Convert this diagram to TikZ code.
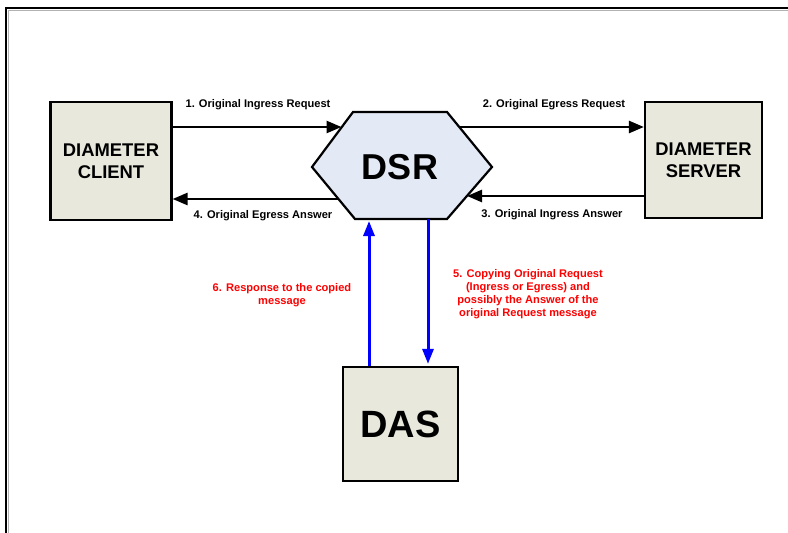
\documentclass[tikz,border=0pt]{standalone}
\usepackage{fontspec}
\setmainfont{Liberation Sans}
\usetikzlibrary{arrows.meta}
\definecolor{boxfill}{HTML}{E8E8DD}
\definecolor{hexfill}{HTML}{E4EAF5}
\definecolor{netblue}{HTML}{0000FF}
\definecolor{msgred}{HTML}{FF0000}
\tikzset{
  entity/.style={draw=black, line width=2.2pt, fill=boxfill, align=center, inner sep=0pt,
    font=\fontsize{18.4}{22}\selectfont\bfseries},
  arr/.style={line width=2.6pt, -{Triangle[length=15pt,width=12pt]}},
  barr/.style={line width=3pt, draw=netblue, -{Triangle[length=15pt,width=11pt]}},
  msg/.style={font=\fontsize{11.1}{13}\selectfont\bfseries, inner sep=0pt, align=center},
  redmsg/.style={msg, text=msgred}
}
\begin{document}
\begin{tikzpicture}[x=1pt,y=-1pt]
\useasboundingbox (0,0) rectangle (788,533);
% frame
\draw[line width=0.8pt, black!30] (8.5,540) -- (8.5,10.5) -- (795,10.5);
\draw[line width=2pt] (6,540) -- (6,8) -- (795,8);

% boxes
\node[entity, minimum width=121pt, minimum height=118pt] (client) at (111,161) {DIAMETER\\CLIENT};
\node[entity, minimum width=117pt, minimum height=116pt] (server) at (703.5,160) {DIAMETER\\SERVER};
\node[entity, minimum width=115pt, minimum height=114pt,
      font=\fontsize{38}{40}\selectfont\bfseries] (das) at (400.5,424) {DAS};

% DSR hexagon
\coordinate (hA) at (353,112);
\coordinate (hB) at (447,112);
\coordinate (hC) at (492,167);
\coordinate (hD) at (447,219);
\coordinate (hE) at (355,219);
\coordinate (hF) at (312,167);
\draw[line width=2.2pt, fill=hexfill, line join=miter] (hA) -- (hB) -- (hC) -- (hD) -- (hE) -- (hF) -- cycle;
\node[font=\fontsize{36}{40}\selectfont\bfseries, inner sep=0pt] (dsr) at (400,167) {DSR};

% attachment points on the hexagon
\coordinate (h1) at (341.5,127);
\coordinate (h2) at (459.5,127);
\coordinate (h3) at (467,196);
\coordinate (h4) at (338.5,199);
\coordinate (b1) at (369,221);
\coordinate (b2) at (428,219);

% black message arrows
\draw[arr] (client.east |- h1) -- (h1);
\draw[arr] (h2) -- (server.west |- h2);
\draw[arr] (server.west |- h3) -- (h3);
\draw[arr] (h4) -- (client.east |- h4);

% blue arrows
\draw[barr] (das.north -| b1) -- (b1);
\draw[barr, shorten >=2pt] (b2) -- (das.north -| b2);

% labels
\node[msg] (l1) at (258,105) {1. Original Ingress Request};
\node[msg] (l2) at (554,105) {2. Original Egress Request};
\node[msg] (l3) at (552,215) {3. Original Ingress Answer};
\node[msg] (l4) at (263,216) {4. Original Egress Answer};
\node[redmsg] (l6) at (282,295) {6. Response to the copied\\message};
\node[redmsg] (l5) at (528,294) {5. Copying Original Request\\(Ingress or Egress) and\\possibly the Answer of the\\original Request message};
\end{tikzpicture}
\end{document}
